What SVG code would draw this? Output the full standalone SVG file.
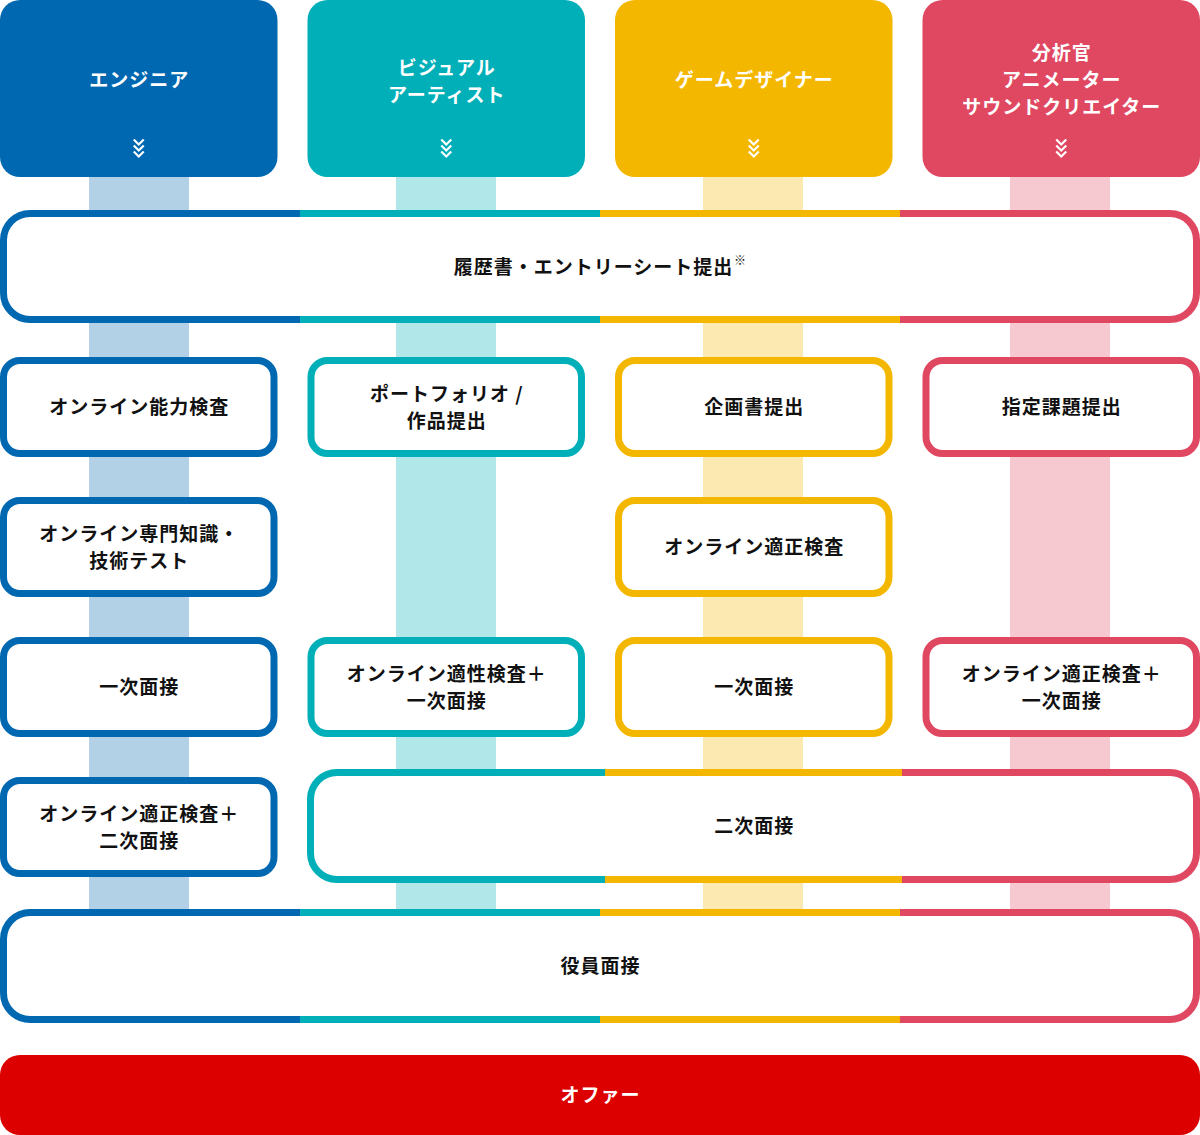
<svg xmlns="http://www.w3.org/2000/svg" width="1200" height="1135" viewBox="0 0 1200 1135">
<style>
.t{font-family:"Noto Sans CJK JP","Noto Sans",sans-serif;font-weight:700;font-size:19px;letter-spacing:1px;text-anchor:middle;fill:#111}
.h{fill:#fff}
.node{fill:#fff;stroke-width:7}
.b{stroke:#0068b0}.c{stroke:#00afb7}.y{stroke:#f4b700}.p{stroke:#e04862}
.chev{fill:none;stroke:#fff;stroke-width:2.2}
</style>
<defs>
<linearGradient id="g4" gradientUnits="userSpaceOnUse" x1="0" y1="0" x2="1200" y2="0">
<stop offset="0.25" stop-color="#0068b0"/><stop offset="0.25" stop-color="#00afb7"/>
<stop offset="0.5" stop-color="#00afb7"/><stop offset="0.5" stop-color="#f4b700"/>
<stop offset="0.75" stop-color="#f4b700"/><stop offset="0.75" stop-color="#e04862"/>
</linearGradient>
<linearGradient id="g3" gradientUnits="userSpaceOnUse" x1="307" y1="0" x2="1200" y2="0">
<stop offset="0.3333" stop-color="#00afb7"/><stop offset="0.3333" stop-color="#f4b700"/>
<stop offset="0.6667" stop-color="#f4b700"/><stop offset="0.6667" stop-color="#e04862"/>
</linearGradient>
<g id="chv"><polyline points="-5,0 0,5 5,0"/><polyline points="-5,6 0,11 5,6"/><polyline points="-5,12 0,17 5,12"/></g>
</defs>

<g id="connectors">
<rect x="89" y="177" width="100" height="732" fill="#0068b0" fill-opacity="0.3"/>
<rect x="396" y="177" width="100" height="732" fill="#00afb7" fill-opacity="0.3"/>
<rect x="703" y="177" width="100" height="732" fill="#f4b700" fill-opacity="0.3"/>
<rect x="1010" y="177" width="100" height="732" fill="#e04862" fill-opacity="0.3"/>
</g>

<g id="header-engineer">
<rect x="0" y="0" width="277.5" height="177" rx="20" fill="#0068b0"/>
<text class="t h" x="139.25" y="86.8">エンジニア</text>
<use href="#chv" x="138.75" y="139.5" class="chev"/>
</g>
<g id="header-visual">
<rect x="307.5" y="0" width="277.5" height="177" rx="20" fill="#00afb7"/>
<text class="t h" x="446.75" y="74.8">ビジュアル</text>
<text class="t h" x="446.75" y="101.8">アーティスト</text>
<use href="#chv" x="446.25" y="139.5" class="chev"/>
</g>
<g id="header-game">
<rect x="615" y="0" width="277.5" height="177" rx="20" fill="#f4b700"/>
<text class="t h" x="754.25" y="86.8">ゲームデザイナー</text>
<use href="#chv" x="753.75" y="139.5" class="chev"/>
</g>
<g id="header-analyst">
<rect x="922.5" y="0" width="277.5" height="177" rx="20" fill="#e04862"/>
<text class="t h" x="1061.75" y="59.8">分析官</text>
<text class="t h" x="1061.75" y="86.8">アニメーター</text>
<text class="t h" x="1061.75" y="113.8">サウンドクリエイター</text>
<use href="#chv" x="1061.25" y="139.5" class="chev"/>
</g>

<g id="entry">
<rect class="node" x="3.5" y="213.5" width="1193" height="106" rx="26.5" stroke="url(#g4)"/>
<text class="t" x="593.5" y="274">履歴書・エントリーシート提出</text>
<text x="740" y="265" style="font-family:'Noto Sans CJK JP',sans-serif;font-size:12px;fill:#111;text-anchor:middle">※</text>
</g>

<g id="eng-1"><rect class="node b" x="3.5" y="360.5" width="270.5" height="93" rx="16.5"/><text class="t" x="139.25" y="414">オンライン能力検査</text></g>
<g id="eng-2"><rect class="node b" x="3.5" y="500.5" width="270.5" height="93" rx="16.5"/><text class="t" x="139.25" y="540.5">オンライン専門知識・</text><text class="t" x="139.25" y="567.5">技術テスト</text></g>
<g id="eng-3"><rect class="node b" x="3.5" y="640.5" width="270.5" height="93" rx="16.5"/><text class="t" x="139.25" y="694">一次面接</text></g>
<g id="eng-4"><rect class="node b" x="3.5" y="780.5" width="270.5" height="93" rx="16.5"/><text class="t" x="139.25" y="820.5">オンライン適正検査＋</text><text class="t" x="139.25" y="847.5">二次面接</text></g>

<g id="vis-1"><rect class="node c" x="311" y="360.5" width="270.5" height="93" rx="16.5"/><text class="t" x="446.75" y="401">ポートフォリオ /</text><text class="t" x="446.75" y="428">作品提出</text></g>
<g id="vis-3"><rect class="node c" x="311" y="640.5" width="270.5" height="93" rx="16.5"/><text class="t" x="446.75" y="680.5">オンライン適性検査＋</text><text class="t" x="446.75" y="707.5">一次面接</text></g>

<g id="game-1"><rect class="node y" x="618.5" y="360.5" width="270.5" height="93" rx="16.5"/><text class="t" x="754.25" y="414">企画書提出</text></g>
<g id="game-2"><rect class="node y" x="618.5" y="500.5" width="270.5" height="93" rx="16.5"/><text class="t" x="754.25" y="554">オンライン適正検査</text></g>
<g id="game-3"><rect class="node y" x="618.5" y="640.5" width="270.5" height="93" rx="16.5"/><text class="t" x="754.25" y="694">一次面接</text></g>

<g id="ana-1"><rect class="node p" x="926" y="360.5" width="270.5" height="93" rx="16.5"/><text class="t" x="1061.75" y="414">指定課題提出</text></g>
<g id="ana-3"><rect class="node p" x="926" y="640.5" width="270.5" height="93" rx="16.5"/><text class="t" x="1061.75" y="680.5">オンライン適正検査＋</text><text class="t" x="1061.75" y="707.5">一次面接</text></g>

<g id="second">
<rect class="node" x="310.5" y="772.5" width="886" height="107" rx="26.5" stroke="url(#g3)"/>
<text class="t" x="754.25" y="833">二次面接</text>
</g>

<g id="exec">
<rect class="node" x="3.5" y="912.5" width="1193" height="107" rx="26.5" stroke="url(#g4)"/>
<text class="t" x="600.5" y="973">役員面接</text>
</g>

<g id="offer">
<rect x="0" y="1055" width="1200" height="80" rx="20" fill="#dc0000"/>
<text class="t h" x="600.5" y="1102">オファー</text>
</g>
</svg>
